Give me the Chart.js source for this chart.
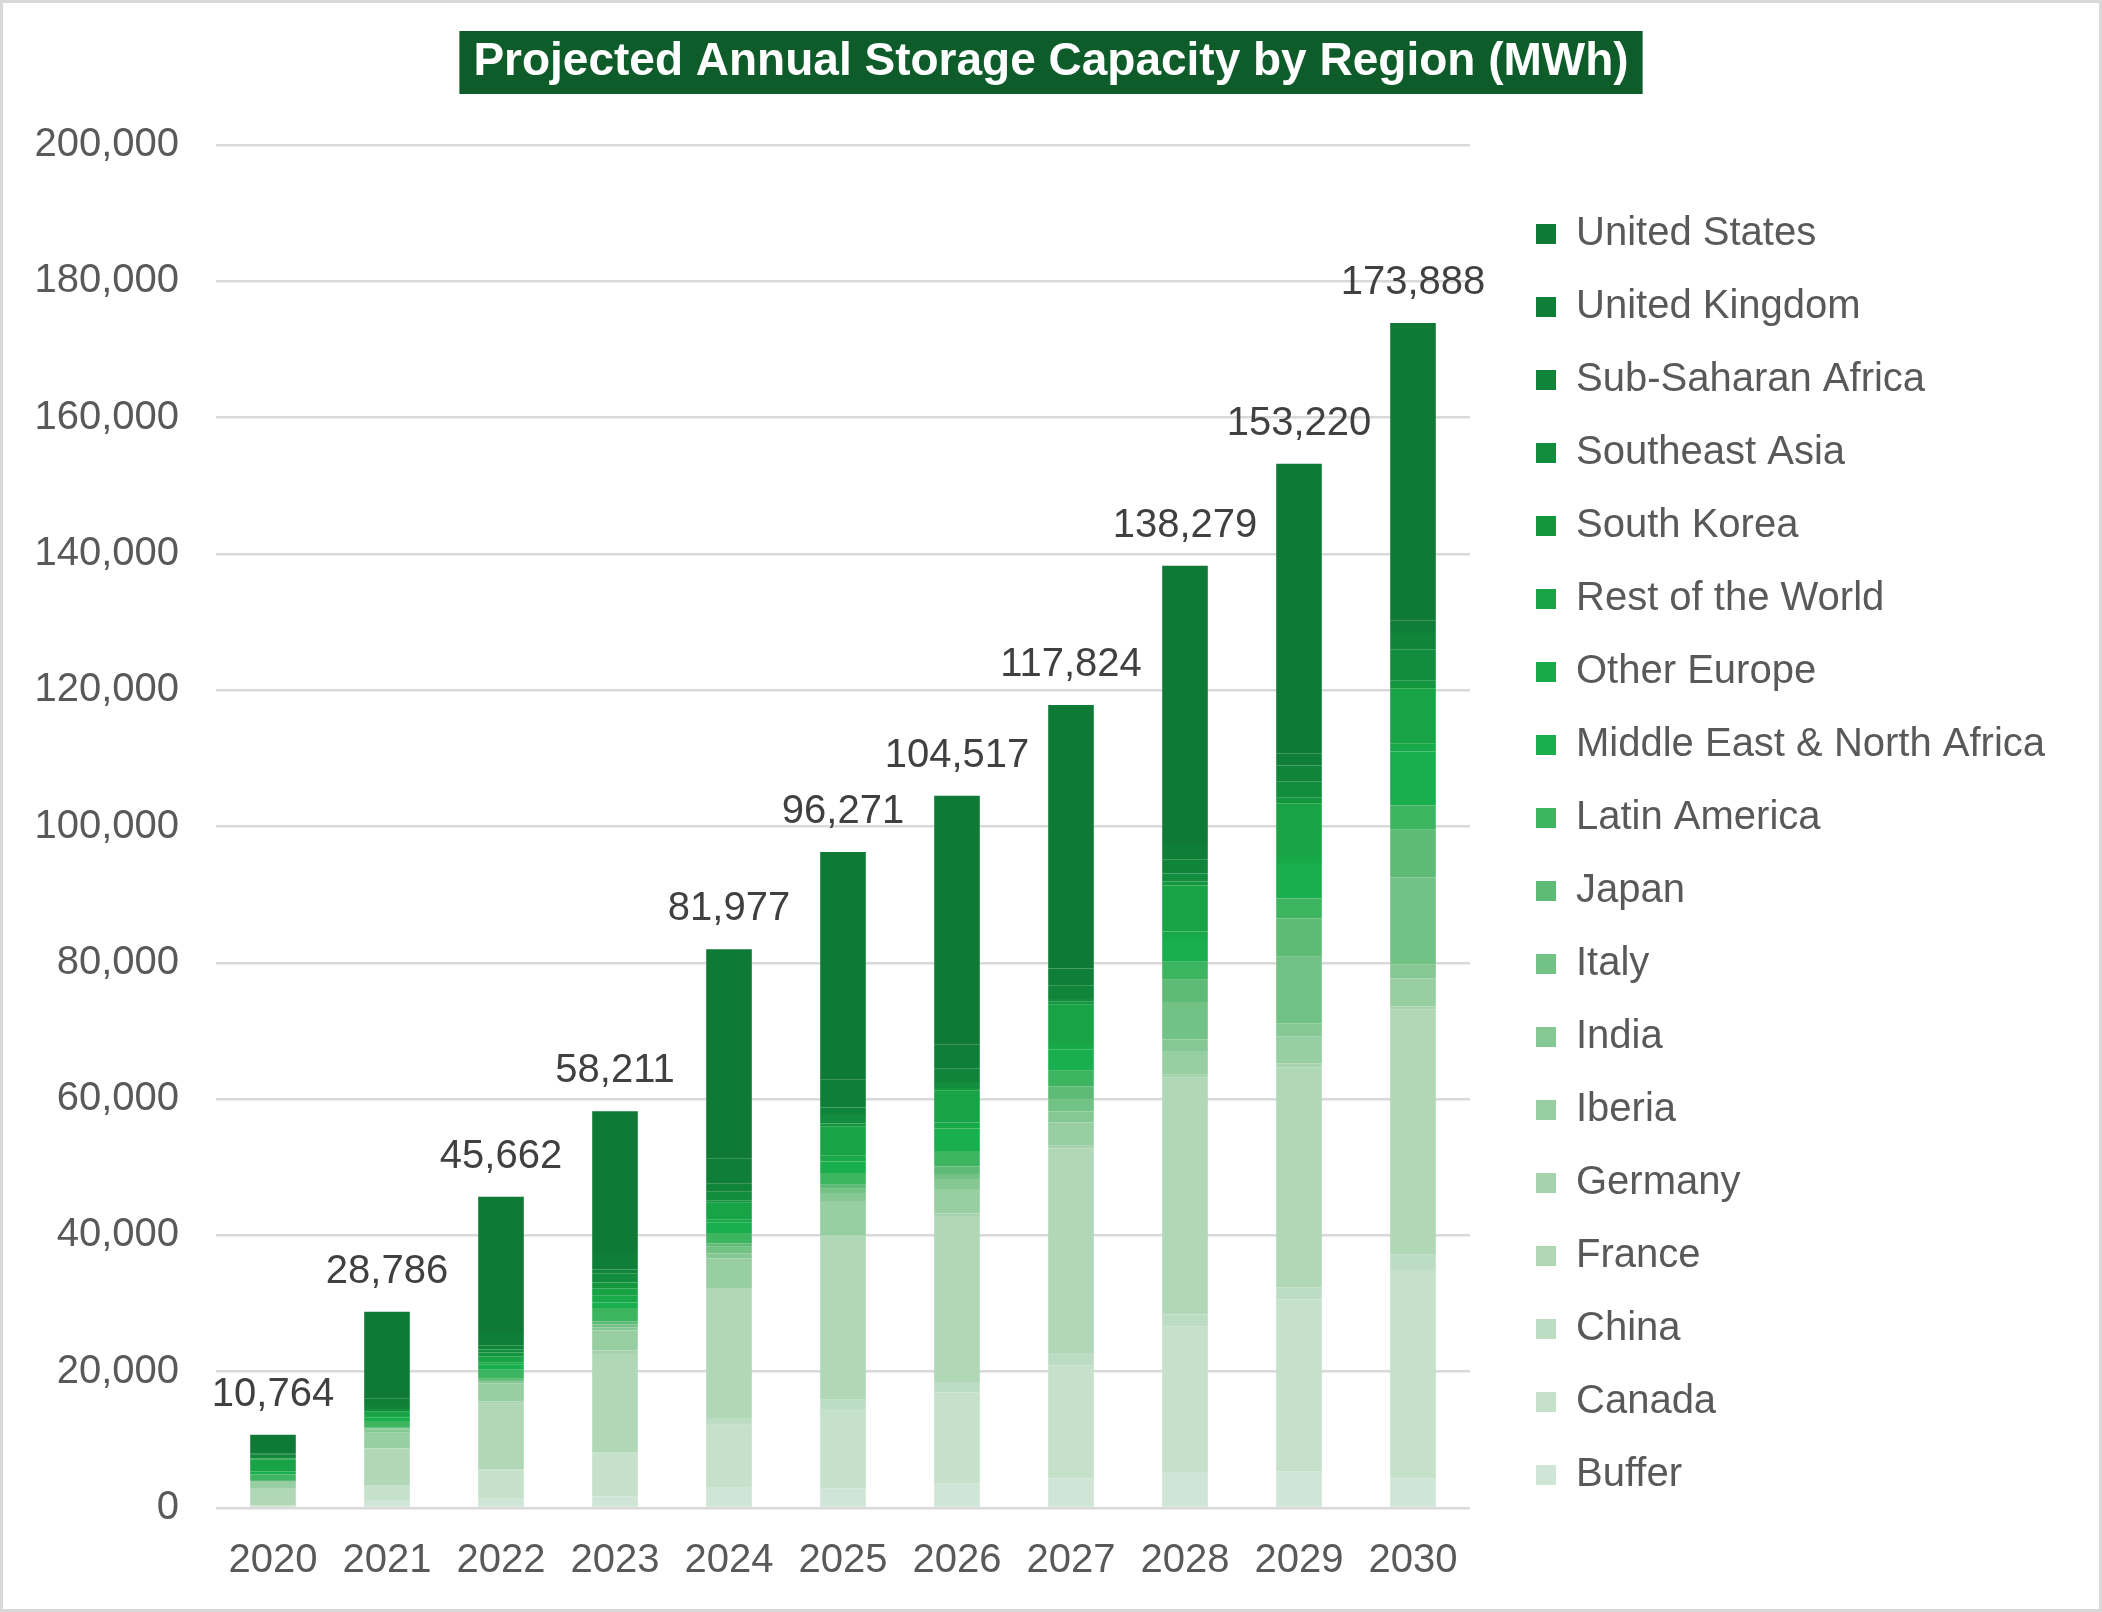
<!DOCTYPE html>
<html>
<head>
<meta charset="utf-8">
<title>Projected Annual Storage Capacity by Region (MWh)</title>
<script src="https://cdn.jsdelivr.net/npm/chart.js@4"></script>
<style>
  html, body { margin: 0; padding: 0; background: #fff; }
  #wrap { position: relative; width: 2102px; height: 1612px; }
  #frame { position: absolute; left: 0; top: 0; right: 0; bottom: 0; border: 3px solid #d9d9d9; pointer-events: none; }
</style>
</head>
<body>
<div id="wrap">
  <canvas id="storageChart"></canvas>
  <div id="frame"></div>
</div>
<script>
// values, MWh per year
const years = ['2020', '2021', '2022', '2023', '2024', '2025', '2026', '2027', '2028', '2029', '2030'];
const totals = [10764, 28786, 45662, 58211, 81977, 96271, 104517, 117824, 138279, 153220, 173888];

const buffer           = [200, 1190, 1350, 1720, 3070, 2890, 3630, 4360, 5270, 5400, 4350];
const canada           = [100, 2050, 4200, 6360, 9150, 11620, 13330, 16570, 21400, 25200, 30580];
const china            = [50, 100, 100, 100, 970, 1370, 1520, 1820, 1740, 1800, 2230];
const france           = [2450, 5370, 9640, 14420, 19100, 24120, 24360, 30000, 34720, 32230, 36000];
const germany          = [20, 50, 320, 540, 0, 0, 400, 390, 460, 580, 460];
const iberia           = [1000, 2300, 2690, 2910, 4310, 5050, 3570, 3430, 3480, 4000, 4060];
const india            = [50, 490, 350, 430, 750, 1180, 1470, 1620, 1680, 1920, 2090];
const italy            = [100, 100, 150, 430, 970, 630, 740, 1700, 5510, 9740, 12770];
const japan            = [150, 120, 150, 480, 540, 590, 1080, 2000, 3250, 5630, 7000];
const latinAmerica     = [830, 1000, 1340, 1940, 1510, 1720, 2300, 2260, 2660, 2950, 3550];
const mena             = [350, 540, 810, 810, 1560, 1660, 3290, 3180, 3310, 5050, 7930];
const otherEurope      = [70, 200, 300, 1080, 430, 840, 880, 890, 1100, 1010, 1120];
const restOfWorld      = [1800, 630, 880, 1020, 2420, 4260, 4660, 5630, 6780, 7890, 8150];
const southKorea       = [110, 100, 540, 860, 380, 490, 390, 440, 560, 900, 1100];
const southeastAsia    = [200, 290, 430, 1350, 1230, 1230, 880, 400, 1180, 2350, 4630];
const subSaharanAfrica = [350, 600, 540, 550, 1190, 1120, 1960, 1960, 2080, 2300, 2370];
const unitedKingdom    = [140, 970, 2040, 2410, 3660, 4070, 3530, 2500, 2240, 1800, 1790];
const unitedStates     = [2794, 12686, 19832, 20801, 30737, 33431, 36527, 38674, 40859, 42470, 43708];

// bottom of the stack first
const regions = [
    ['Buffer', buffer], ['Canada', canada], ['China', china], ['France', france],
    ['Germany', germany], ['Iberia', iberia], ['India', india], ['Italy', italy],
    ['Japan', japan], ['Latin America', latinAmerica], ['Middle East & North Africa', mena],
    ['Other Europe', otherEurope], ['Rest of the World', restOfWorld], ['South Korea', southKorea],
    ['Southeast Asia', southeastAsia], ['Sub-Saharan Africa', subSaharanAfrica],
    ['United Kingdom', unitedKingdom], ['United States', unitedStates]
];
const greens = ['#cfe5d5', '#c5e1ca', '#bcdcc3', '#b0d8b7', '#a6d3ae', '#97cea2', '#85c894', '#72c285',
                '#5dbb75', '#3cb460', '#1aaf4e', '#18a949', '#17a346', '#14963f', '#128d3e', '#10853a',
                '#0f7f38', '#0e7a36'];

const FONT = "'Liberation Sans', Arial, sans-serif";
Chart.defaults.font.family = FONT;
Chart.defaults.color = '#595959';

// green box behind the chart title
const titleBox = {
    id: 'titleBox',
    beforeDraw(chart) {
        const t = chart.titleBlock;
        const ctx = chart.ctx;
        ctx.save();
        ctx.font = "bold 46px " + FONT;
        const w = ctx.measureText(t.options.text).width + 28;
        const cx = (t.left + t.right) / 2;
        ctx.fillStyle = '#0f5c2b';
        ctx.fillRect(cx - w / 2, t.top + 31, w, 63);
        ctx.restore();
    }
};

// totals written above each bar
const totalLabels = {
    id: 'totalLabels',
    afterDatasetsDraw(chart) {
        const ctx = chart.ctx;
        const meta = chart.getDatasetMeta(chart.data.datasets.length - 1);
        ctx.save();
        ctx.font = "40px " + FONT;
        ctx.fillStyle = '#404040';
        ctx.textAlign = 'center';
        ctx.textBaseline = 'alphabetic';
        meta.data.forEach((bar, i) => {
            ctx.fillText(totals[i].toLocaleString('en-US'), bar.x, bar.y - 29);
        });
        ctx.restore();
    }
};

const ctx = document.getElementById('storageChart').getContext('2d');
const storageChart = new Chart(ctx, {
    type: 'bar',
    data: {
        labels: years,
        datasets: regions.map((r, i) => ({
            label: r[0],
            data: r[1],
            backgroundColor: greens[i],
            borderWidth: 0,
            categoryPercentage: 1,
            barPercentage: 0.4
        }))
    },
    options: {
        responsive: true,
        maintainAspectRatio: false,
        animation: false,
        layout: { padding: { left: 35, right: 35, top: 0, bottom: 0 } },
        plugins: {
            title: {
                display: true,
                text: 'Projected Annual Storage Capacity by Region (MWh)',
                color: '#ffffff',
                font: { size: 46, weight: 'bold', lineHeight: 63 / 46 },
                padding: { top: 31, bottom: 51 }
            },
            legend: {
                position: 'right',
                reverse: true,
                maxWidth: 564,
                title: { display: true, text: '', font: { size: 10, lineHeight: 1 }, padding: { top: 87, bottom: 0 } },
                labels: {
                    boxWidth: 20,
                    boxHeight: 20,
                    padding: 33,
                    color: '#595959',
                    font: { size: 40 },
                    // trailing blanks only widen the legend column; maxWidth trims it back
                    generateLabels: chart => Chart.defaults.plugins.legend.labels.generateLabels(chart)
                        .map(item => Object.assign(item, { text: item.text + '\u00a0'.repeat(8) }))
                }
            },
            tooltip: { enabled: false }
        },
        scales: {
            x: {
                stacked: true,
                grid: { display: false },
                border: { display: false },
                ticks: { font: { size: 40 }, color: '#595959', padding: 21 },
                afterFit: s => { s.height = 104; }
            },
            y: {
                stacked: true,
                min: 0,
                max: 200000,
                ticks: {
                    stepSize: 20000,
                    font: { size: 40 },
                    color: '#595959',
                    padding: 37,
                    callback: v => v.toLocaleString('en-US')
                },
                grid: { color: '#d9d9d9', lineWidth: 2.5, drawTicks: false },
                border: { display: false },
                afterFit: s => { s.width = 181; }
            },
            gap: {
                type: 'linear',
                position: 'right',
                display: true,
                ticks: { display: false },
                grid: { display: false },
                border: { display: false },
                afterFit: s => { s.width = 33; }
            }
        }
    },
    plugins: [titleBox, totalLabels]
});
</script>
</body>
</html>
